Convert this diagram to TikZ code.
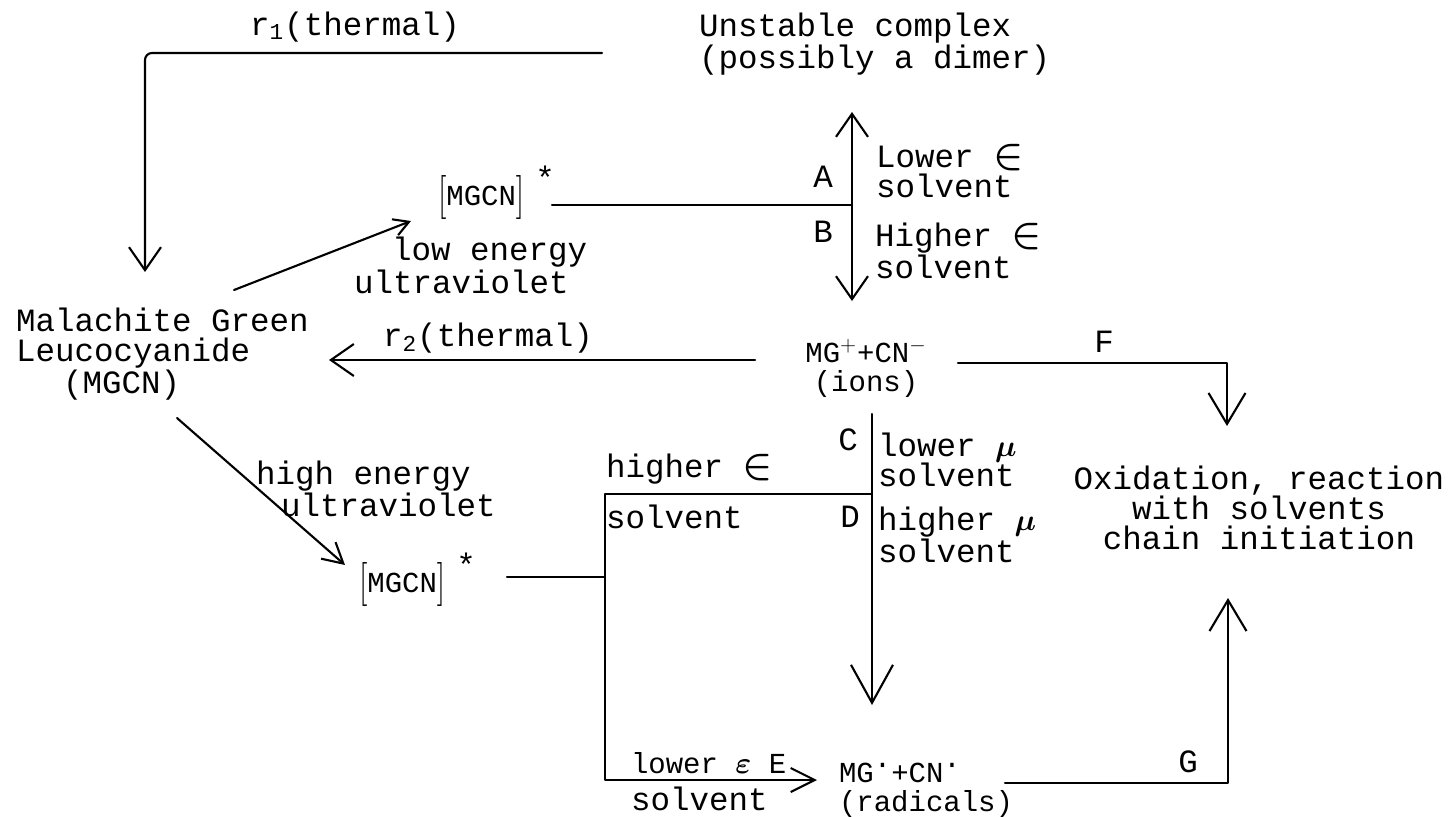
\documentclass[tikz,border=0pt]{standalone}
\usepackage{fontspec}
\usepackage{bm}
\setmainfont{Liberation Mono}
\usetikzlibrary{arrows.meta}
\newcommand{\mgcnstar}{\raisebox{-0.06cm}{\scalebox{1.1}[1.45]{$[$}}{\fontsize{16.5}{16.5}\selectfont MGCN}\raisebox{-0.06cm}{\scalebox{1.1}[1.45]{$]$}}\hspace{0.22cm}\raisebox{0.32cm}{*}}
\newcommand{\rdot}{\raisebox{0.6ex}{\textperiodcentered}}
\newcommand{\diel}{\scalebox{1.3}{$\bm{\in}$}}
\tikzset{
  bigbarb/.style={-{Straight Barb[length=0.62cm,width=0.74cm]}},
  midbarb/.style={-{Straight Barb[length=0.46cm,width=0.64cm]}},
  smallbarb/.style={-{Straight Barb[length=0.4cm,width=0.44cm]}},
  small/.style={font=\fontsize{16.5}{16.5}\selectfont}
}
\begin{document}
\begin{tikzpicture}[x=0.02cm,y=-0.02cm,line width=1.2pt,line join=round,line cap=round,font=\fontsize{18.5}{17}\selectfont,every node/.style={inner sep=0pt}]
	\useasboundingbox (0,0) rectangle (1454,816);
	\node (mgcn) at (15,354) [anchor=west,align=left]{Malachite Green\\Leucocyanide\\\hspace*{0.94cm}(MGCN)};
	\node (rone) at (355,27) {r\textsubscript{1}(thermal)};
	\node (complex) at (698,44) [anchor=west,align=left]{Unstable complex\\(possibly a dimer)};
	\node (upstar) at (437,193) [anchor=west]{\mgcnstar};
	\node (lowstar) at (358,580) [anchor=west]{\mgcnstar};
	\node (ions) at (866,368) [small,align=center]{MG$^{+}$+CN$^{-}$\\(ions)};
	\node (radicals) at (838,790) [small,anchor=west,align=left]{MG\rdot+CN\rdot\\(radicals)};
	\node (oxid) at (1259,508) [align=center]{Oxidation, reaction\\with solvents\\chain initiation};
	\coordinate (topend) at (602,53);
	\coordinate (topcorner) at (145,53);
	\coordinate (toptip) at (145,272);
	\draw[midbarb,rounded corners=4pt] (topend) -- (topcorner) -- (toptip);
	\coordinate (abtop) at (852,112);
	\coordinate (abmid) at (852,205);
	\coordinate (abbot) at (852,301);
	\coordinate (upline) at (552,205);
	\draw[{Straight Barb[length=0.46cm,width=0.64cm]}-{Straight Barb[length=0.46cm,width=0.64cm]}] (abtop) -- (abbot);
	\draw (upline) -- (abmid);
	\node (lblA) at (823,177) {A};
	\node (lblB) at (823,232) {B};
	\node (lowereps) at (875,171) [anchor=west,align=left]{Lower \diel\\solvent};
	\node (highereps) at (874,251) [anchor=west,align=left]{Higher \diel\\solvent};
	\coordinate (lowfrom) at (234,290);
	\coordinate (lowto) at (411,221);
	\draw[-{Straight Barb[length=0.3cm,width=0.34cm]}] (lowfrom) -- (lowto);
	\node (lowlbl) at (391,252) [anchor=west]{low energy};
	\node (lowuv) at (353,282) [anchor=west]{ultraviolet};
	\coordinate (rtwofrom) at (755,360);
	\coordinate (rtwoto) at (329,360);
	\draw[midbarb] (rtwofrom) -- (rtwoto);
	\node (rtwo) at (488,338) {r\textsubscript{2}(thermal)};
	\coordinate (ffrom) at (958,363);
	\coordinate (fcorner) at (1227,363);
	\coordinate (ftip) at (1227,426);
	\draw[bigbarb] (ffrom) -- (fcorner) -- (ftip);
	\node (lblF) at (1104,342) {F};
	\coordinate (cdtop) at (872,414);
	\coordinate (cdmid) at (872,494);
	\coordinate (cdtip) at (872,705);
	\draw[-{Straight Barb[length=0.76cm,width=0.84cm]}] (cdtop) -- (cdtip);
	\node (lblC) at (848,440) {C};
	\node (lblD) at (850,517) {D};
	\node (lowermu) at (877,460) [anchor=west,align=left]{lower $\bm{\mu}$\\solvent};
	\node (highermu) at (877,535) [anchor=west,align=left]{higher $\bm{\mu}$\\solvent};
	\coordinate (ejoin) at (605,494);
	\coordinate (ecorner) at (605,780);
	\coordinate (etip) at (817,780);
	\draw[-{Straight Barb[length=0.48cm,width=0.48cm]}] (cdmid) -- (ejoin) -- (ecorner) -- (etip);
	\coordinate (lowline) at (507,577);
	\draw (lowline) -- (lowline -| ejoin);
	\node (highereps2) at (605,469) [anchor=west]{higher \diel};
	\node (solvent2) at (605,517) [anchor=west]{solvent};
	\node (lowervareps) at (630,763) [small,anchor=west]{lower $\bm{\varepsilon}$ E};
	\node (solvent3) at (630,799) [anchor=west]{solvent};
	\coordinate (highfrom) at (177,418);
	\coordinate (highto) at (345,565);
	\draw[smallbarb] (highfrom) -- (highto);
	\node (highlbl) at (255,476) [anchor=west]{high energy};
	\node (highuv) at (280,505) [anchor=west]{ultraviolet};
	\coordinate (gfrom) at (1005,783);
	\coordinate (gcorner) at (1228,783);
	\coordinate (gtip) at (1228,598);
	\draw[bigbarb] (gfrom) -- (gcorner) -- (gtip);
	\node (lblG) at (1188,762) {G};
\end{tikzpicture}
\end{document}
